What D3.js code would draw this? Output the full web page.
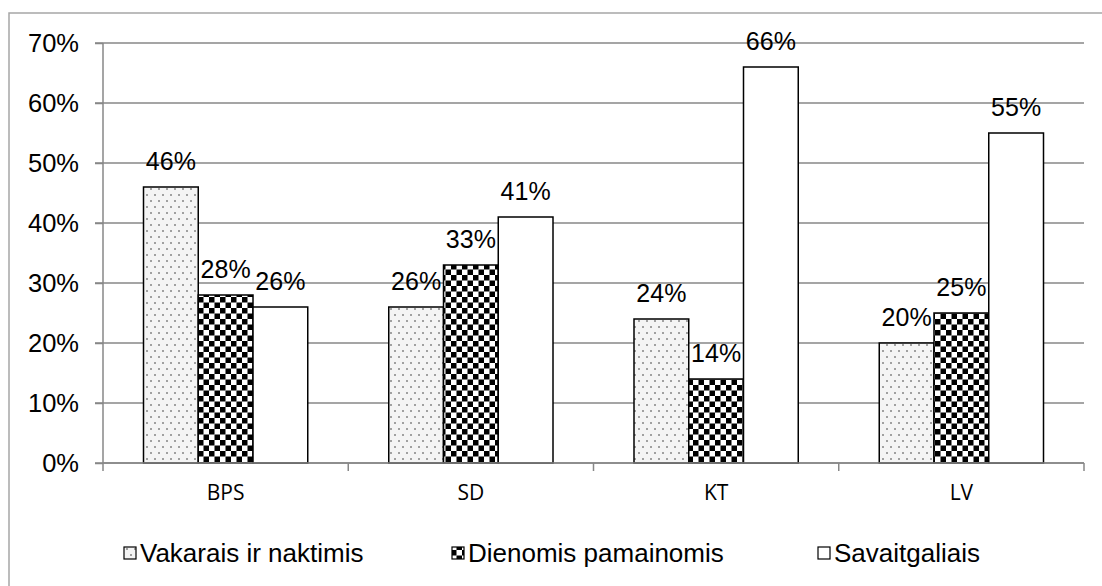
<!DOCTYPE html>
<html><head><meta charset="utf-8">
<script src="https://cdn.jsdelivr.net/npm/d3@7"></script>
<style>body{margin:0;background:#fff}svg{display:block}</style>
</head><body>
<script>
const categories = ["BPS", "SD", "KT", "LV"];
const seriesNames = ["Vakarais ir naktimis", "Dienomis pamainomis", "Savaitgaliais"];
const vakarais = [46, 26, 24, 20];
const dienomis = [28, 33, 14, 25];
const savaitgaliais = [26, 41, 66, 55];
const yTicks = [0, 10, 20, 30, 40, 50, 60, 70];

(function () {
const W = 1102, H = 586;
const svg = d3.select("body").append("svg").attr("width", W).attr("height", H);
const defs = svg.append("defs");
const FONT = "Liberation Sans, Arial, sans-serif";

// dotted pattern
const pd = defs.append("pattern").attr("id", "dots").attr("patternUnits", "userSpaceOnUse")
  .attr("width", 16).attr("height", 12);
pd.append("rect").attr("width", 16).attr("height", 12).attr("fill", "#f4f4f4");
[[3,3],[11,3],[7,9],[15,9]].forEach(([px,py]) => {
  pd.append("rect").attr("x", px-1).attr("y", py-1).attr("width", 2).attr("height", 2).attr("fill", "#a0a0a0");
});
// checker pattern
const pc = defs.append("pattern").attr("id", "checks").attr("patternUnits", "userSpaceOnUse")
  .attr("width", 11).attr("height", 11);
pc.append("rect").attr("width", 11).attr("height", 11).attr("fill", "#fff");
pc.append("rect").attr("width", 5.5).attr("height", 5.5).attr("fill", "#000");
pc.append("rect").attr("x", 5.5).attr("y", 5.5).attr("width", 5.5).attr("height", 5.5).attr("fill", "#000");

const fills = ["url(#dots)", "url(#checks)", "#fff"];
const series = [vakarais, dienomis, savaitgaliais];

// outer frame
svg.append("rect").attr("x", 9).attr("y", 13).attr("width", 1100).attr("height", 600)
  .attr("fill", "none").attr("stroke", "#a6a6a6").attr("stroke-width", 1.5);

const pLeft = 103, pRight = 1084, pTop = 43, pBottom = 463;
const x = d3.scaleBand().domain(categories).range([pLeft, pRight]);
const y = d3.scaleLinear().domain([0, 70]).range([pBottom, pTop]);
const gap = 40.5;
const xs = d3.scaleBand().domain(d3.range(3)).range([0, x.bandwidth() - 2*gap]);

// gridlines
svg.append("g").selectAll("line").data(yTicks).join("line")
  .attr("x1", pLeft - 8).attr("x2", pRight)
  .attr("y1", d => y(d)).attr("y2", d => y(d))
  .attr("stroke", "#878787").attr("stroke-width", 1.5);

// y axis
const yAxis = svg.append("g").attr("transform", `translate(${pLeft},0)`)
  .call(d3.axisLeft(y).tickValues(yTicks).tickFormat(d => d + "%").tickSize(8).tickPadding(16));
yAxis.select(".domain").attr("stroke", "#878787").attr("stroke-width", 1.5).attr("d", `M0,${pTop}V${pBottom}`);
yAxis.selectAll(".tick line").attr("stroke", "#878787").attr("stroke-width", 1.5);
yAxis.selectAll(".tick text").attr("font-family", FONT).attr("font-size", 25.5).attr("fill", "#000");

// bars
series.forEach((vals, si) => {
  const g = svg.append("g");
  g.selectAll("rect").data(categories).join("rect")
    .attr("x", c => x(c) + gap + xs(si))
    .attr("y", (c, i) => y(vals[i]))
    .attr("width", xs.bandwidth())
    .attr("height", (c, i) => pBottom - y(vals[i]))
    .attr("fill", fills[si]).attr("stroke", "#000").attr("stroke-width", 1.5);
  g.selectAll("text").data(categories).join("text")
    .attr("x", c => x(c) + gap + xs(si) + xs.bandwidth()/2)
    .attr("y", (c, i) => y(vals[i]) - 17)
    .attr("text-anchor", "middle")
    .attr("font-family", FONT).attr("font-size", 25)
    .text((c, i) => vals[i] + "%");
});

// x axis
const xAxis = svg.append("g").attr("transform", `translate(0,${pBottom})`);
xAxis.append("line").attr("x1", pLeft).attr("x2", pRight).attr("stroke", "#878787").attr("stroke-width", 1.5);
xAxis.selectAll("line.tk").data(categories.concat(["end"])).join("line").attr("class", "tk")
  .attr("x1", (c, i) => i < categories.length ? x(c) : pRight)
  .attr("x2", (c, i) => i < categories.length ? x(c) : pRight)
  .attr("y1", 0).attr("y2", 8).attr("stroke", "#878787").attr("stroke-width", 1.5);
xAxis.selectAll("text").data(categories).join("text")
  .attr("x", c => x(c) + x.bandwidth()/2).attr("y", 37)
  .attr("text-anchor", "middle")
  .attr("font-family", "Open Sans, Liberation Sans, sans-serif").attr("font-size", 21)
  .text(c => c);

// legend
const legX = [124, 452, 818];
const lg = svg.append("g");
seriesNames.forEach((n, i) => {
  lg.append("rect").attr("x", legX[i]).attr("y", 547).attr("width", 12).attr("height", 12)
    .attr("fill", fills[i]).attr("stroke", "#000").attr("stroke-width", 1.2);
  lg.append("text").attr("x", legX[i] + 16).attr("y", 562)
    .attr("font-family", FONT).attr("font-size", 26)
    .text(n);
});
})();
</script>
</body></html>
